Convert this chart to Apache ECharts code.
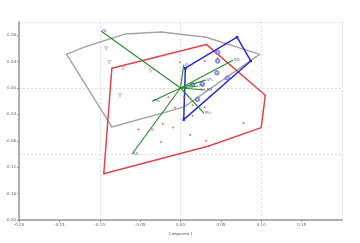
<!DOCTYPE html>
<html><head><meta charset="utf-8">
<script src="https://cdn.jsdelivr.net/npm/echarts@6/dist/echarts.min.js"></script>
<style>html,body{margin:0;padding:0;background:#fff}#c{width:360px;height:243px}</style>
</head><body><div id="c"></div>
<script>
// Group hulls (ordered vertices) and interior points [Component 1, Component 2]
const greyHull = [[-0.141,0.051],[-0.117,0.063],[-0.068,0.082],[-0.024,0.085],[0.032,0.077],[0.098,0.051],[0.004,-0.029],[-0.085,-0.059]];
const greyPts = [[-0.092,0.060],[-0.088,0.039],[-0.071,0.030],[-0.037,0.026],[-0.075,-0.011]];
const redHull = [[-0.085,0.030],[0.032,0.066],[0.105,-0.011],[0.100,-0.060],[0.035,-0.088],[-0.095,-0.130]];
const redPts = [[-0.001,0.039],[0.030,0.041],[0.046,0.045],[0.026,-0.002],[-0.015,-0.014],[0.004,-0.014],[-0.007,-0.030],[0.015,-0.026],[0.030,-0.029],[0.015,-0.042],[-0.022,-0.054],[-0.009,-0.060],[0.012,-0.071],[0.032,-0.080],[0.078,-0.053],[-0.024,-0.082],[-0.035,-0.063],[-0.052,-0.063]];
const blueHull = [[0.006,0.030],[0.070,0.077],[0.087,0.041],[0.004,-0.048]];
const bluePts = [[0.046,0.054],[0.046,0.041],[0.045,0.023],[0.058,0.015],[0.027,0.006],[0.015,0.005],[0.021,-0.017]];
// Loading vectors
const vecNames = ['NL','SD','PN₁','BD','AP₁','PL','PN','PH₁','AL'];
const vecEnds = [[-0.098,0.086],[-0.060,-0.100],[-0.035,-0.020],[0.065,0.042],[0.031,0.012],[0.022,0.003],[0.031,-0.003],[0.029,-0.038],[0.004,0.035]];
const xTicks = {min:-0.20,max:0.20,step:0.05};
const yTicks = {min:-0.20,max:0.10,step:0.04};

const close = a => a.concat([a[0]]);
const fmt = v => v.toFixed(2);
const axisCommon = {
  axisLine:{show:true,onZero:false,lineStyle:{color:'#999',width:1.5}},
  axisTick:{show:true,length:2,lineStyle:{color:'#999'}},
  axisLabel:{fontSize:4,color:'#666',fontFamily:'DejaVu Sans',formatter:fmt,margin:3,showMaxLabel:false},
  splitLine:{show:false}
};
const gridAxis = {axisLine:{show:false,onZero:false},axisTick:{show:false},axisLabel:{show:false},
  splitLine:{show:true,lineStyle:{color:'#ddd',type:[2,2],width:1}}};

const chart = echarts.init(document.getElementById('c'));
chart.setOption({
  animation:false,
  grid:{left:19,right:18,top:22,bottom:23,containLabel:false,outerBoundsMode:'none'},
  xAxis:[
    Object.assign({type:'value',min:xTicks.min,max:xTicks.max,interval:xTicks.step,name:'Component 1',nameLocation:'middle',nameGap:10,nameTextStyle:{fontSize:4,color:'#555'}},axisCommon),
    Object.assign({type:'value',min:-0.2,max:0.2,interval:0.1,position:'top'},gridAxis)
  ],
  yAxis:[
    Object.assign({type:'value',min:yTicks.min,max:yTicks.max,interval:yTicks.step,name:'Component 2',nameLocation:'middle',nameGap:13,nameTextStyle:{fontSize:4,color:'#555'}},axisCommon),
    Object.assign({type:'value',min:-0.2,max:0.1,interval:0.1,position:'right'},gridAxis)
  ],
  series:[
    {type:'line',data:close(greyHull),symbol:'circle',symbolSize:1.5,lineStyle:{color:'#a6a6a6',width:1.5},itemStyle:{color:'#a6a6a6'},z:2},
    {type:'line',data:close(redHull),symbol:'circle',symbolSize:1.5,lineStyle:{color:'#e0454a',width:1.5},itemStyle:{color:'#e0454a'},z:2},
    {type:'line',data:close(blueHull),symbol:'rect',symbolSize:2.5,lineStyle:{color:'#2a2ad6',width:1.5},itemStyle:{color:'#2a2ad6'},z:3},
    {type:'scatter',data:greyPts,symbol:'triangle',symbolRotate:180,symbolSize:3.5,itemStyle:{color:'#fff',borderColor:'#999',borderWidth:0.7},z:4},
    {type:'scatter',data:redPts,symbol:'circle',symbolSize:2,itemStyle:{color:'#e0454a'},z:4},
    {type:'scatter',data:bluePts,symbol:'emptyCircle',symbolSize:3.5,itemStyle:{color:'#7070e0',borderWidth:0.7},z:4},
    {type:'lines',coordinateSystem:'cartesian2d',lineStyle:{color:'#2e8b2e',width:1.2,opacity:1},
      data:vecEnds.map(e=>({coords:[[0,0],e]})),z:5},
    {type:'scatter',symbolSize:0,z:6,
      data:vecEnds.map((e,i)=>({value:e,name:vecNames[i]})),
      label:{show:true,formatter:p=>p.name,fontSize:4,color:'#3a3ad0',position:'right',distance:1,fontFamily:'DejaVu Sans'}}
  ]
});
</script></body></html>
